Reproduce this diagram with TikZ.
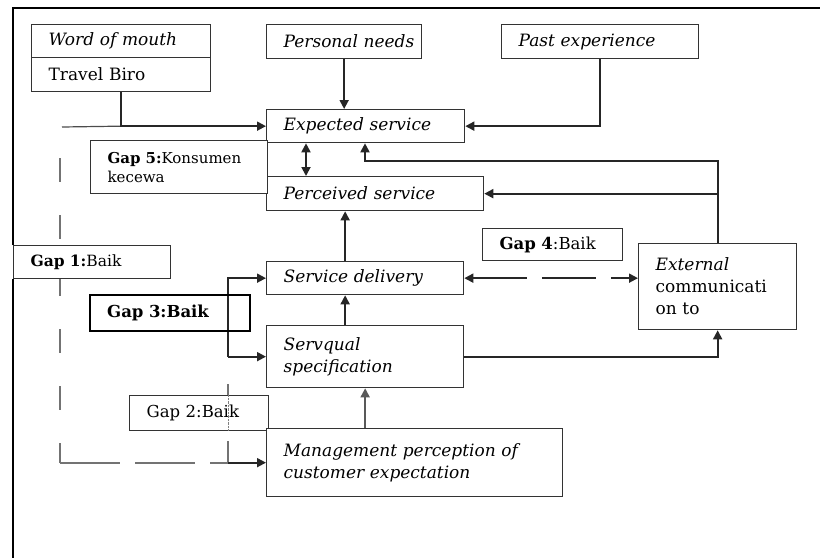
\documentclass[tikz,border=0pt]{standalone}
\usepackage{fontspec}
\setmainfont{DejaVu Serif}
\usetikzlibrary{calc,arrows.meta,backgrounds}

\begin{document}
\begin{tikzpicture}[x=1pt,y=-1pt,
    box/.style 2 args={draw=black!80, line width=1.3pt, fill=white, anchor=north west,
        inner xsep=0pt, inner ysep=2pt, align=left, minimum width=#1, minimum height=#2,
        text width=#1-34pt, font=\fontsize{17}{22}\selectfont},
    gapbox/.style={font=\fontsize{16.5}{20}\selectfont},
    arr/.style={line width=1.8pt, black!85, -{Triangle[length=9pt,width=9pt]}},
    darr/.style={line width=1.8pt, black!85, {Triangle[length=9pt,width=9pt]}-{Triangle[length=9pt,width=9pt]}},
    gapline/.style={line width=1.8pt, black!55},
    frame/.style={line width=2.6pt, black}]
\useasboundingbox (0,0) rectangle (820,558);

\node[box={179pt}{33pt}] (wom) at (31,24) {\textit{Word of mouth}};
\node[box={179pt}{34pt}] (tb) at (31,57) {Travel Biro};
\node[box={155pt}{34pt}] (pn) at (266,24) {\mbox{\textit{Personal needs}}};
\node[box={197pt}{34pt}] (past) at (501,24) {\textit{Past experience}};
\node[box={198pt}{33pt}] (exp) at (266,109) {\textit{Expected service}};
\node[box={217pt}{34pt}] (perc) at (266,176) {\textit{Perceived service}};
\node[box={177pt}{53pt}, font=\fontsize{15}{19}\selectfont] (g5) at (90,140) {\textbf{Gap 5:}Konsumen\\kecewa};
\node[box={157pt}{33pt}, font=\fontsize{15.5}{20}\selectfont] (g1) at (13,245) {\textbf{Gap 1:}Baik};
\node[box={140pt}{32pt}, gapbox] (g4) at (482,228) {\textbf{Gap 4}:Baik};
\node[box={197pt}{33pt}] (sd) at (266,261) {\textit{Service delivery}};
\node[box={158pt}{86pt}] (ext) at (638,243) {\textit{External}\\communicati\\on to};
\node[box={160pt}{36pt}, gapbox, fill=none, line width=2.4pt, draw=black] (g3) at (89,294) {\textbf{Gap 3:Baik}};
\node[box={197pt}{62pt}] (sq) at (266,325) {\textit{Servqual}\\\textit{specification}};
\node[box={139pt}{35pt}, gapbox] (g2) at (129,395) {Gap 2:Baik};
\node[box={296pt}{68pt}] (mgmt) at (266,428) {\textit{Management perception of}\\\textit{customer expectation}};

\coordinate (tl) at (13,8);
\coordinate (tr) at (820,8);
\coordinate (bl) at (13,558);
\coordinate (wl) at (62,127);
\coordinate (fb) at (365,161);
\coordinate (g1top) at (60,158);
\coordinate (split) at ($(sq.west)+(-38,0)$);

\begin{scope}[on background layer]
\draw[frame] (g1.north west) -- (tl) -- (tr);
\draw[frame] (g1.south west) -- (bl);
\draw[line width=1.2pt, black!70] (wl) -- (tb.south |- exp.west);
\draw[arr] (tb.south) |- (exp.west);
\draw[arr] (pn.south) -- (pn.south |- exp.north);
\draw[arr] (past.south) |- (exp.east);
\draw[darr] ([xshift=40pt]exp.south west) -- ([xshift=40pt]perc.north west);
\draw[arr] (ext.north) |- (fb) -- (fb |- exp.south);
\draw[arr] (ext.north |- perc.east) -- (perc.east);
\draw[arr] ([xshift=-20pt]sd.north) -- ([xshift=-20pt]sd.north |- perc.south);
\draw[arr] ([xshift=-20pt]sq.north) -- ([xshift=-20pt]sq.north |- sd.south);
\draw[arr, black!65] (sq.south |- mgmt.north) -- (sq.south);
\draw[arr] (sq.east) -| (ext.south);
\draw[darr, dash pattern=on 54pt off 15pt] (sd.east) -- (sd.east -| ext.west);
\draw[gapline, dash pattern=on 24pt off 33pt] (g1top) -- (g1top |- mgmt.west);
\draw[gapline, dash pattern=on 60pt off 15pt] (g1top |- mgmt.west) -- (split |- mgmt.west);
\draw[gapline, dash pattern=on 22pt off 35pt] (split |- mgmt.west) -- (split);
\draw[arr] (split |- mgmt.west) -- (mgmt.west);
\draw[arr] (split) |- (sd.west);
\draw[arr] (split) -- (sq.west);
\end{scope}
\draw[densely dotted, thin, black!50] (split |- g2.north) -- (split |- g2.south);
\end{tikzpicture}
\end{document}
